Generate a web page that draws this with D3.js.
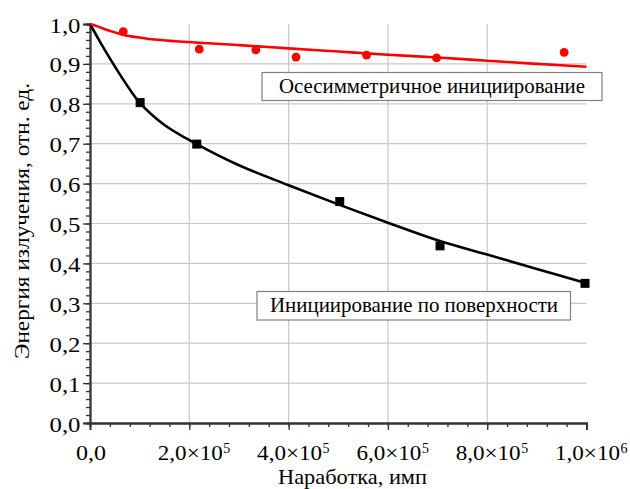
<!DOCTYPE html>
<html>
<head>
<meta charset="utf-8">
<script src="https://cdn.jsdelivr.net/npm/d3@7"></script>
<style>
body{margin:0;background:#fff}
</style>
</head>
<body>
<div id="chart"></div>
<script>
// axis ticks
var xTicks=[0,2e5,4e5,6e5,8e5,1e6]
var xTickLabels=["0,0","2,0×10","4,0×10","6,0×10","8,0×10","1,0×10"]
var xTickPowers=["","5","5","5","5","6"]
var yTicks=[0,0.1,0.2,0.3,0.4,0.5,0.6,0.7,0.8,0.9,1.0]
var yTickLabels=["0,0","0,1","0,2","0,3","0,4","0,5","0,6","0,7","0,8","0,9","1,0"]

// осесимметричное инициирование (red)
var axialX=[67000,220000,334000,415000,557000,698000,955000]
var axialY=[0.981,0.937,0.935,0.917,0.922,0.915,0.929]
var axialFitX=[0,15000,30000,50000,70000,100000,130000,170000,220000,300000,400000,500000,600000,700000,800000,900000,1000000]
var axialFitY=[1.0,0.994,0.987,0.979,0.972,0.966,0.961,0.957,0.953,0.947,0.939,0.931,0.923,0.916,0.908,0.900,0.893]

// инициирование по поверхности (black)
var surfX=[101000,215000,503000,705000,997000]
var surfY=[0.803,0.699,0.555,0.444,0.350]
var surfFitX=[0,20000,40000,70000,100000,150000,215000,300000,400000,500000,600000,700000,800000,900000,1000000]
var surfFitY=[1.0,0.956,0.914,0.855,0.803,0.747,0.699,0.646,0.596,0.548,0.502,0.458,0.422,0.386,0.350]

var serif="Liberation Serif, Tinos, DejaVu Serif, Noto Serif, serif"

chart()
function chart(){
var width=630,height=489
var svg=d3.select("#chart").append("svg")
	.attr("width",width)
	.attr("height",height)

var x=d3.scaleLinear().domain([0,1e6]).range([90,586.5])
var y=d3.scaleLinear().domain([0,1]).range([423,24])

function label(px,py,str,size,len,anchor){
	var t=svg.append("text")
		.attr("x",px).attr("y",py)
		.attr("font-family",serif)
		.attr("font-size",size+"px")
		.attr("fill","#000")
		.attr("text-anchor",anchor||"start")
		.text(str)
	if(len) t.attr("textLength",len).attr("lengthAdjust","spacingAndGlyphs")
	return t
}

// grid
var grid=svg.append("g")
grid.selectAll(".gx")
	.data(xTicks.slice(1,5))
	.enter().append("line")
	.attr("x1",function(d){return x(d)})
	.attr("x2",function(d){return x(d)})
	.attr("y1",y(1)).attr("y2",y(0))
	.attr("stroke","#c8c8c8").attr("stroke-width",1.2)
grid.selectAll(".gy")
	.data(yTicks.slice(1,10))
	.enter().append("line")
	.attr("x1",x(0)).attr("x2",x(1e6))
	.attr("y1",function(d){return y(d)})
	.attr("y2",function(d){return y(d)})
	.attr("stroke","#c8c8c8").attr("stroke-width",1.2)

// axes
var xAxis=svg.append("g").attr("transform","translate(0,"+y(0)+")")
xAxis.call(d3.axisBottom(x).tickValues(d3.range(0,1e6+1,4e4)).tickSize(4).tickFormat(""))
xAxis.append("g").call(d3.axisBottom(x).tickValues(xTicks).tickSize(7).tickFormat(""))
var yAxis=svg.append("g").attr("transform","translate("+x(0)+",0)")
yAxis.call(d3.axisLeft(y).tickValues(d3.range(0,51).map(function(i){return i/50})).tickSize(4).tickFormat(""))
yAxis.append("g").call(d3.axisLeft(y).tickValues(yTicks).tickSize(7).tickFormat(""))
svg.selectAll(".domain").attr("stroke","#333").attr("stroke-width",1.8)
svg.selectAll(".tick line").attr("stroke","#333").attr("stroke-width",1.3)

// tick labels
for(var i=0;i<yTicks.length;i++){
	label(80.5,y(yTicks[i])+8.5,yTickLabels[i],22,31,"end")
}
for(var i=0;i<xTicks.length;i++){
	var w=i==0?30:65
	label(x(xTicks[i])+1,459.5,xTickLabels[i],22,w,"middle")
	if(xTickPowers[i]){
		label(x(xTicks[i])+1+w/2+0.5,452.5,xTickPowers[i],14,7)
	}
}

// axis titles
label(278,484,"Наработка, имп",22,149)
svg.append("g")
	.attr("transform","translate(28.5,221) rotate(-90)")
	.append("text")
	.attr("text-anchor","middle")
	.attr("font-family",serif)
	.attr("font-size","22px")
	.attr("textLength",276).attr("lengthAdjust","spacingAndGlyphs")
	.text("Энергия излучения, отн. ед.")

// fit curves
var line=d3.line()
	.x(function(d){return x(d[0])})
	.y(function(d){return y(d[1])})
	.curve(d3.curveCatmullRom.alpha(0.5))
svg.append("path")
	.datum(d3.zip(surfFitX,surfFitY))
	.attr("d",line)
	.attr("fill","none").attr("stroke","#000").attr("stroke-width",2.6)
svg.append("path")
	.datum(d3.zip(axialFitX,axialFitY))
	.attr("d",line)
	.attr("fill","none").attr("stroke","#ff0000").attr("stroke-width",2.6)

// markers
var sq=9
svg.selectAll(".sq")
	.data(d3.zip(surfX,surfY))
	.enter().append("rect")
	.attr("x",function(d){return x(d[0])-sq/2})
	.attr("y",function(d){return y(d[1])-sq/2})
	.attr("width",sq).attr("height",sq)
	.attr("fill","#000")
svg.selectAll(".dot")
	.data(d3.zip(axialX,axialY))
	.enter().append("circle")
	.attr("cx",function(d){return x(d[0])})
	.attr("cy",function(d){return y(d[1])})
	.attr("r",4.4)
	.attr("fill","#ff0000")

// legend boxes
var boxes=[
	{x:262,y:72.5,w:340,h:28,tx:279,ty:93.3,len:306,label:"Осесимметричное инициирование"},
	{x:257,y:291.5,w:313.5,h:28.5,tx:270,ty:311.8,len:288,label:"Инициирование по поверхности"}
]
for(var i=0;i<boxes.length;i++){
	var b=boxes[i]
	svg.append("rect")
		.attr("x",b.x).attr("y",b.y)
		.attr("width",b.w).attr("height",b.h)
		.attr("fill","#fff")
		.attr("stroke","#808080")
		.attr("stroke-width",1.2)
	label(b.tx,b.ty,b.label,21,b.len)
}
}
</script>
</body>
</html>
